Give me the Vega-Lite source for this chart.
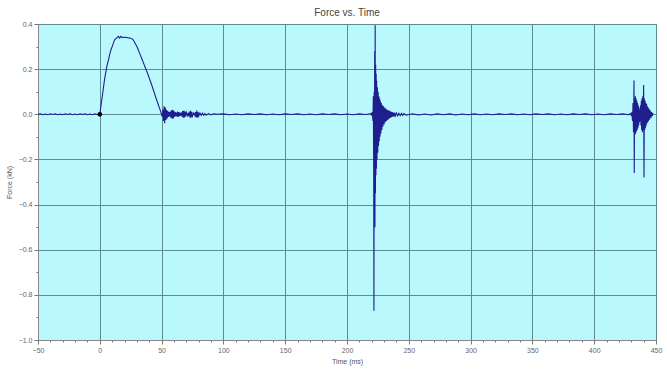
{
  "$schema": "https://vega.github.io/schema/vega-lite/v6.json",
  "autosize": "none",
  "width": 618,
  "height": 316,
  "padding": {"left": 38, "top": 24, "right": 11, "bottom": 32},
  "background": "white",
  "title": {"text": "Force vs. Time", "fontSize": 10, "fontWeight": "normal", "color": "#444", "font": "Liberation Sans", "offset": 2},
  "config": {
    "view": {"fill": "#b9f9fd", "stroke": "#aac"},
    "axis": {"labelFont": "Liberation Sans", "titleFont": "Liberation Sans", "labelFontSize": 7, "titleFontSize": 7, "labelColor": "#666", "titleColor": "#555", "titleFontWeight": "normal", "gridColor": "#5f8c8c", "gridWidth": 1, "domainColor": "#888", "tickColor": "#777", "labelOverlap": false}
  },
  "data": {"values": [
    {"t": -50, "f": 0.0}, {"t": -48, "f": 0.002}, {"t": -46, "f": -0.002}, {"t": -44, "f": 0.001}, {"t": -42, "f": -0.002}, {"t": -40, "f": 0.002}, {"t": -38, "f": -0.001}, {"t": -36, "f": 0.002}, {"t": -34, "f": -0.002}, {"t": -32, "f": 0.001}, {"t": -30, "f": -0.002}, {"t": -28, "f": 0.002}, {"t": -26, "f": -0.001}, {"t": -24, "f": 0.002}, {"t": -22, "f": -0.002}, {"t": -20, "f": 0.001}, {"t": -18, "f": -0.002}, {"t": -16, "f": 0.002}, {"t": -14, "f": -0.001}, {"t": -12, "f": 0.002}, {"t": -10, "f": -0.002}, {"t": -8, "f": 0.001}, {"t": -6, "f": -0.002}, {"t": -4, "f": 0.002}, {"t": -2, "f": -0.001}, {"t": 0, "f": 0.0},
    {"t": 1, "f": 0.04}, {"t": 2, "f": 0.08}, {"t": 3, "f": 0.12}, {"t": 4, "f": 0.16}, {"t": 5, "f": 0.19}, {"t": 6, "f": 0.22}, {"t": 7, "f": 0.24}, {"t": 8, "f": 0.265}, {"t": 9, "f": 0.285}, {"t": 10, "f": 0.3}, {"t": 11, "f": 0.315}, {"t": 12, "f": 0.33}, {"t": 13, "f": 0.335}, {"t": 14, "f": 0.34}, {"t": 15, "f": 0.345}, {"t": 16, "f": 0.338}, {"t": 17, "f": 0.345}, {"t": 18, "f": 0.34}, {"t": 19, "f": 0.342}, {"t": 20, "f": 0.34}, {"t": 21, "f": 0.341}, {"t": 22, "f": 0.34}, {"t": 23, "f": 0.338}, {"t": 24, "f": 0.339}, {"t": 25, "f": 0.336}, {"t": 26, "f": 0.335}, {"t": 27, "f": 0.33}, {"t": 28, "f": 0.32}, {"t": 29, "f": 0.31}, {"t": 30, "f": 0.3}, {"t": 31, "f": 0.287}, {"t": 32, "f": 0.273}, {"t": 33, "f": 0.26}, {"t": 34, "f": 0.246}, {"t": 35, "f": 0.232}, {"t": 36, "f": 0.218}, {"t": 37, "f": 0.204}, {"t": 38, "f": 0.19}, {"t": 39, "f": 0.176}, {"t": 40, "f": 0.16}, {"t": 41, "f": 0.145}, {"t": 42, "f": 0.13}, {"t": 43, "f": 0.113}, {"t": 44, "f": 0.097}, {"t": 45, "f": 0.08}, {"t": 46, "f": 0.064}, {"t": 47, "f": 0.048}, {"t": 48, "f": 0.032}, {"t": 49, "f": 0.016}, {"t": 50, "f": 0.0},
    {"t": 50.5, "f": -0.01}, {"t": 51, "f": 0.02}, {"t": 51.5, "f": -0.03}, {"t": 52, "f": 0.035}, {"t": 52.5, "f": -0.04}, {"t": 53, "f": 0.03}, {"t": 53.5, "f": -0.025}, {"t": 54, "f": 0.02}, {"t": 54.5, "f": -0.018}, {"t": 55, "f": 0.015}, {"t": 55.5, "f": -0.012}, {"t": 56, "f": 0.01}, {"t": 56.5, "f": -0.01}, {"t": 57, "f": 0.012}, {"t": 57.5, "f": -0.015}, {"t": 58, "f": 0.018}, {"t": 58.5, "f": -0.02}, {"t": 59, "f": 0.02}, {"t": 59.5, "f": -0.018}, {"t": 60, "f": 0.015}, {"t": 60.5, "f": -0.012}, {"t": 61, "f": 0.01}, {"t": 61.5, "f": -0.008}, {"t": 62, "f": 0.008}, {"t": 62.5, "f": -0.01}, {"t": 63, "f": 0.012}, {"t": 63.5, "f": -0.012}, {"t": 64, "f": 0.01}, {"t": 64.5, "f": -0.008}, {"t": 65, "f": 0.006}, {"t": 65.5, "f": -0.006}, {"t": 66, "f": 0.008}, {"t": 66.5, "f": -0.01}, {"t": 67, "f": 0.014}, {"t": 67.5, "f": -0.015}, {"t": 68, "f": 0.016}, {"t": 68.5, "f": -0.014}, {"t": 69, "f": 0.012}, {"t": 69.5, "f": -0.01}, {"t": 70, "f": 0.008}, {"t": 71, "f": -0.006}, {"t": 71.5, "f": 0.006}, {"t": 72, "f": -0.008}, {"t": 72.5, "f": 0.012}, {"t": 73, "f": -0.015}, {"t": 73.5, "f": 0.016}, {"t": 74, "f": -0.014}, {"t": 74.5, "f": 0.01}, {"t": 75, "f": -0.008}, {"t": 76, "f": 0.006}, {"t": 77, "f": -0.006}, {"t": 77.5, "f": 0.01}, {"t": 78, "f": -0.014}, {"t": 78.5, "f": 0.016}, {"t": 79, "f": -0.014}, {"t": 79.5, "f": 0.01}, {"t": 80, "f": -0.008}, {"t": 81, "f": 0.006}, {"t": 82, "f": -0.005}, {"t": 83, "f": 0.005}, {"t": 84, "f": -0.004}, {"t": 85, "f": 0.004}, {"t": 86, "f": -0.004}, {"t": 88, "f": 0.003}, {"t": 90, "f": -0.003}, {"t": 92, "f": 0.002}, {"t": 95, "f": 0.0},
    {"t": 100, "f": 0.002}, {"t": 105, "f": -0.002}, {"t": 110, "f": 0.001}, {"t": 115, "f": -0.002}, {"t": 120, "f": 0.002}, {"t": 125, "f": -0.001}, {"t": 130, "f": 0.002}, {"t": 135, "f": -0.002}, {"t": 140, "f": 0.001}, {"t": 145, "f": -0.002}, {"t": 150, "f": 0.002}, {"t": 155, "f": -0.001}, {"t": 160, "f": 0.002}, {"t": 165, "f": -0.002}, {"t": 170, "f": 0.001}, {"t": 175, "f": -0.002}, {"t": 180, "f": 0.002}, {"t": 185, "f": -0.001}, {"t": 190, "f": 0.002}, {"t": 195, "f": -0.002}, {"t": 200, "f": 0.001}, {"t": 205, "f": -0.002}, {"t": 210, "f": 0.002}, {"t": 215, "f": -0.001}, {"t": 219, "f": 0.002},
    {"t": 219.5, "f": 0.004}, {"t": 220, "f": -0.006}, {"t": 220.5, "f": 0.01}, {"t": 221, "f": -0.03}, {"t": 221.3, "f": 0.08}, {"t": 221.6, "f": -0.25}, {"t": 221.8, "f": -0.87}, {"t": 222, "f": 0.1}, {"t": 222.2, "f": -0.3}, {"t": 222.4, "f": 0.28}, {"t": 222.6, "f": -0.5}, {"t": 222.8, "f": 0.395}, {"t": 223, "f": -0.35}, {"t": 223.2, "f": 0.22}, {"t": 223.4, "f": -0.27}, {"t": 223.6, "f": 0.18}, {"t": 223.8, "f": -0.24}, {"t": 224, "f": 0.15}, {"t": 224.3, "f": -0.2}, {"t": 224.6, "f": 0.12}, {"t": 224.9, "f": -0.17}, {"t": 225.2, "f": 0.1}, {"t": 225.5, "f": -0.14}, {"t": 225.8, "f": 0.08}, {"t": 226.1, "f": -0.12}, {"t": 226.4, "f": 0.07}, {"t": 226.7, "f": -0.1}, {"t": 227, "f": 0.06}, {"t": 227.4, "f": -0.085}, {"t": 227.8, "f": 0.05}, {"t": 228.2, "f": -0.07}, {"t": 228.6, "f": 0.04}, {"t": 229, "f": -0.055}, {"t": 229.5, "f": 0.035}, {"t": 230, "f": -0.045}, {"t": 230.5, "f": 0.03}, {"t": 231, "f": -0.035}, {"t": 231.5, "f": 0.025}, {"t": 232, "f": -0.03}, {"t": 232.5, "f": 0.02}, {"t": 233, "f": -0.025}, {"t": 233.5, "f": 0.018}, {"t": 234, "f": -0.02}, {"t": 234.5, "f": 0.015}, {"t": 235, "f": -0.016}, {"t": 235.5, "f": 0.012}, {"t": 236, "f": -0.013}, {"t": 236.5, "f": 0.01}, {"t": 237, "f": -0.011}, {"t": 237.5, "f": 0.008}, {"t": 238, "f": -0.009}, {"t": 238.5, "f": 0.007}, {"t": 239, "f": -0.008}, {"t": 240, "f": 0.006}, {"t": 241, "f": -0.007}, {"t": 242, "f": 0.005}, {"t": 243, "f": -0.006}, {"t": 244, "f": 0.004}, {"t": 245, "f": -0.005}, {"t": 246, "f": 0.003}, {"t": 248, "f": -0.004},
    {"t": 253, "f": 0.002}, {"t": 258, "f": -0.003}, {"t": 263, "f": 0.001}, {"t": 268, "f": -0.003}, {"t": 273, "f": 0.002}, {"t": 278, "f": -0.002}, {"t": 283, "f": 0.002}, {"t": 288, "f": -0.003}, {"t": 293, "f": 0.001}, {"t": 298, "f": -0.002}, {"t": 303, "f": 0.002}, {"t": 308, "f": -0.002}, {"t": 313, "f": 0.001}, {"t": 318, "f": -0.002}, {"t": 323, "f": 0.002}, {"t": 328, "f": -0.001}, {"t": 333, "f": 0.002}, {"t": 338, "f": -0.002}, {"t": 343, "f": 0.001}, {"t": 348, "f": -0.002}, {"t": 353, "f": 0.002}, {"t": 358, "f": -0.001}, {"t": 363, "f": 0.002}, {"t": 368, "f": -0.002}, {"t": 373, "f": 0.001}, {"t": 378, "f": -0.002}, {"t": 383, "f": 0.002}, {"t": 388, "f": -0.001}, {"t": 393, "f": 0.002}, {"t": 398, "f": -0.002}, {"t": 403, "f": 0.001}, {"t": 408, "f": -0.002}, {"t": 413, "f": 0.002}, {"t": 418, "f": -0.001}, {"t": 423, "f": 0.002}, {"t": 428, "f": -0.002},
    {"t": 429, "f": 0.003}, {"t": 430, "f": -0.004}, {"t": 430.5, "f": 0.01}, {"t": 431, "f": -0.03}, {"t": 431.4, "f": 0.05}, {"t": 431.8, "f": -0.08}, {"t": 432.2, "f": 0.15}, {"t": 432.4, "f": -0.26}, {"t": 432.7, "f": 0.07}, {"t": 433, "f": -0.09}, {"t": 433.3, "f": 0.08}, {"t": 433.6, "f": -0.085}, {"t": 433.9, "f": 0.07}, {"t": 434.2, "f": -0.075}, {"t": 434.5, "f": 0.06}, {"t": 434.8, "f": -0.07}, {"t": 435.1, "f": 0.05}, {"t": 435.4, "f": -0.06}, {"t": 435.7, "f": 0.04}, {"t": 436, "f": -0.05}, {"t": 436.3, "f": 0.03}, {"t": 436.6, "f": -0.035}, {"t": 436.9, "f": 0.02}, {"t": 437.2, "f": -0.03}, {"t": 437.5, "f": 0.04}, {"t": 437.8, "f": -0.05}, {"t": 438.1, "f": 0.06}, {"t": 438.4, "f": -0.07}, {"t": 438.7, "f": 0.07}, {"t": 439, "f": -0.08}, {"t": 439.3, "f": 0.08}, {"t": 439.6, "f": -0.07}, {"t": 440, "f": 0.13}, {"t": 440.3, "f": -0.28}, {"t": 440.6, "f": 0.07}, {"t": 440.9, "f": -0.07}, {"t": 441.2, "f": 0.06}, {"t": 441.5, "f": -0.06}, {"t": 441.8, "f": 0.05}, {"t": 442.1, "f": -0.05}, {"t": 442.4, "f": 0.045}, {"t": 442.7, "f": -0.04}, {"t": 443, "f": 0.035}, {"t": 443.3, "f": -0.035}, {"t": 443.6, "f": 0.03}, {"t": 443.9, "f": -0.03}, {"t": 444.2, "f": 0.025}, {"t": 444.5, "f": -0.025}, {"t": 444.8, "f": 0.02}, {"t": 445.1, "f": -0.02}, {"t": 445.5, "f": 0.015}, {"t": 446, "f": -0.015}, {"t": 446.5, "f": 0.01}, {"t": 447, "f": -0.008}, {"t": 447.5, "f": 0.005}
  ]},
  "layer": [
    {
      "mark": {"type": "line", "color": "#1e1e8e", "strokeWidth": 1.1, "clip": true},
      "encoding": {
        "x": {"field": "t", "type": "quantitative", "scale": {"domain": [-50, 450], "nice": false, "zero": false}, "title": "Time (ms)",
          "axis": {"values": [-50,-40,-30,-20,-10,0,10,20,30,40,50,60,70,80,90,100,110,120,130,140,150,160,170,180,190,200,210,220,230,240,250,260,270,280,290,300,310,320,330,340,350,360,370,380,390,400,410,420,430,440,450],
            "tickCount": 200,
            "labelExpr": "datum.value % 50 == 0 ? datum.label : ''",
            "gridOpacity": {"condition": {"test": "datum.value % 50 == 0", "value": 1}, "value": 0},
            "tickSize": {"condition": {"test": "datum.value % 50 == 0", "value": 4}, "value": 2},
            "labelOverlap": false, "labelFlush": false,
            "labelPadding": 2, "titlePadding": 4}},
        "y": {"field": "f", "type": "quantitative", "scale": {"domain": [-1.0, 0.4], "nice": false, "zero": false}, "title": "Force (kN)",
          "axis": {"values": [-1.0,-0.9,-0.8,-0.7,-0.6,-0.5,-0.4,-0.3,-0.2,-0.1,0,0.1,0.2,0.3,0.4],
            "tickCount": 100,
            "format": ".1f",
            "labelExpr": "abs(round(datum.value*10)) % 2 == 0 ? datum.label : ''",
            "gridOpacity": {"condition": {"test": "abs(round(datum.value*10)) % 2 == 0", "value": 1}, "value": 0},
            "tickSize": {"condition": {"test": "abs(round(datum.value*10)) % 2 == 0", "value": 4}, "value": 2},
            "labelOverlap": false, "labelFlush": false,
            "labelPadding": 2, "titlePadding": 6}}
      }
    },
    {
      "data": {"values": [{"t": 0, "f": 0}]},
      "mark": {"type": "point", "filled": true, "color": "black", "size": 22, "opacity": 1},
      "encoding": {
        "x": {"field": "t", "type": "quantitative"},
        "y": {"field": "f", "type": "quantitative"}
      }
    }
  ]
}
